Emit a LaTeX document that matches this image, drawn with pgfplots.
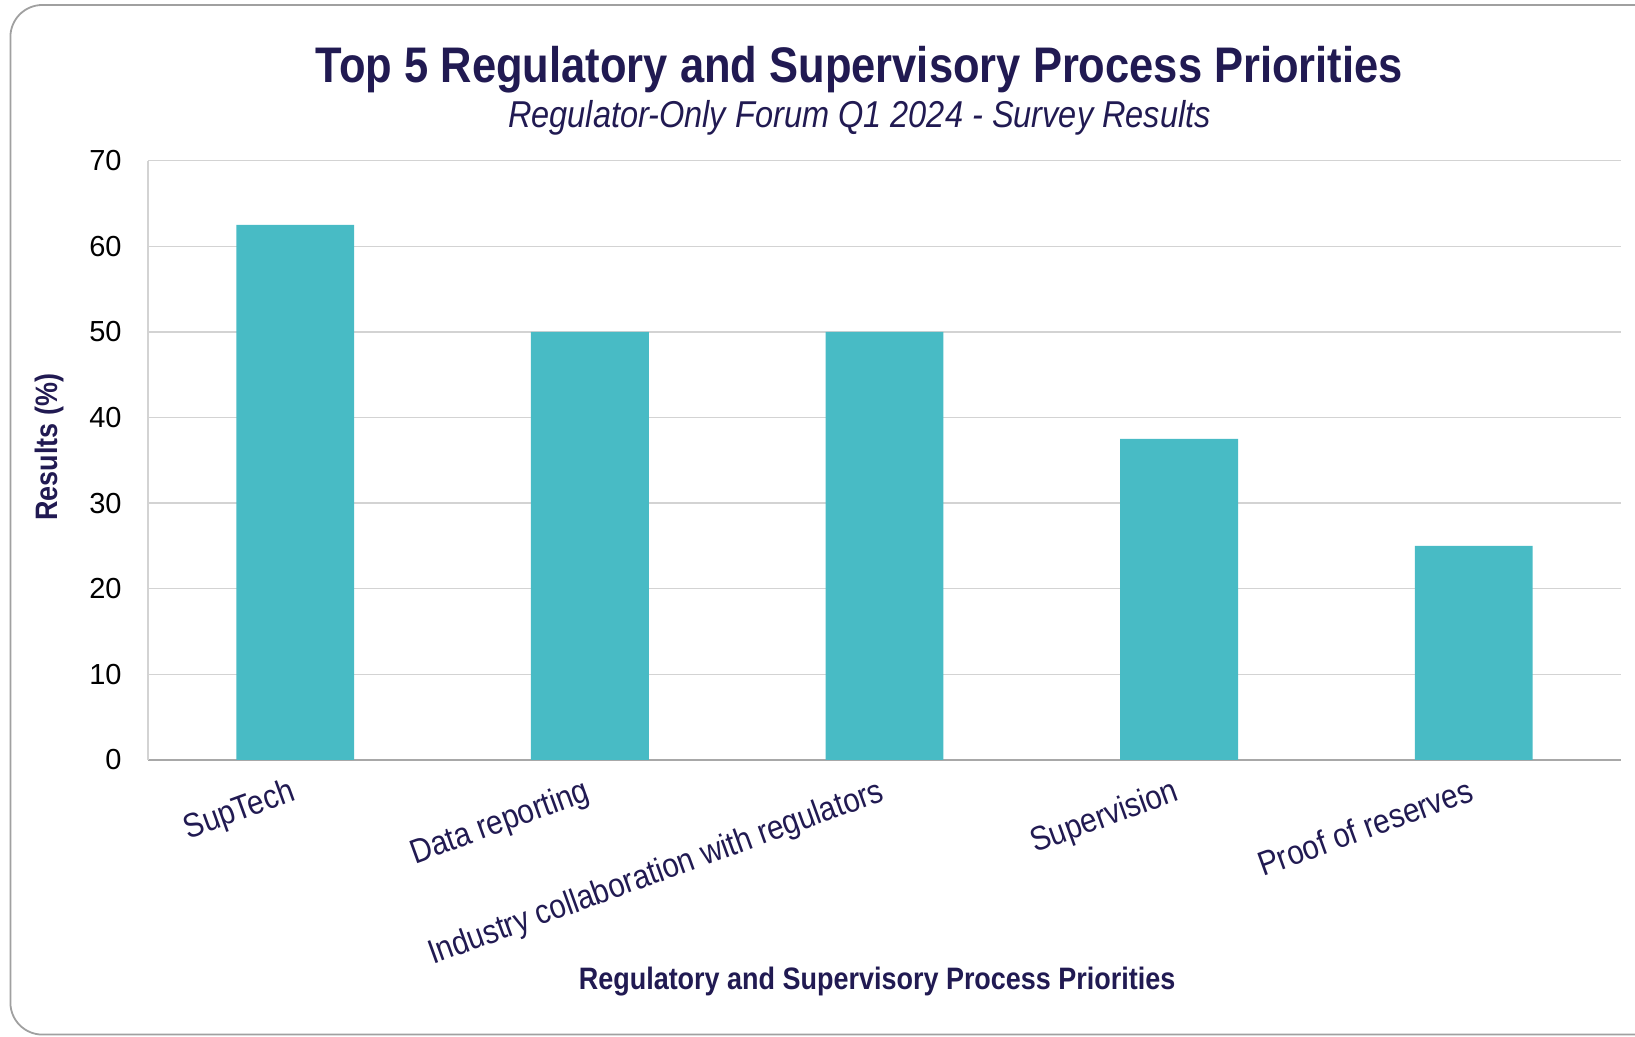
\documentclass[border=0pt]{standalone}
\usepackage{pgfplots}
\pgfplotsset{compat=1.18}
\usepackage{fontspec}
\setmainfont{Liberation Sans}
\newfontfamily\rob[FakeStretch=0.87]{Liberation Sans}
\definecolor{navy}{HTML}{211A52}
\definecolor{barc}{HTML}{48BBC5}
\definecolor{gridc}{HTML}{D3D3D3}
\definecolor{axisc}{HTML}{A8A8A8}
\definecolor{cardc}{HTML}{A0A0A0}
\begin{document}
\begin{tikzpicture}
\useasboundingbox (0,0) rectangle (817.5pt,518.5pt);
\draw[cardc, line width=0.9pt, rounded corners=16pt] (5.2pt,1.2pt) rectangle (840pt,516pt);
\begin{axis}[
  at={(74pt,138.5pt)}, anchor=south west,
  scale only axis, width=736.5pt, height=299.7pt,
  ybar, bar width=0.4, bar shift=0pt,
  xmin=-0.5, xmax=4.5, ymin=0, ymax=70,
  ytick={0,10,...,70},
  xtick={0,1,2,3,4},
  xticklabels={SupTech,Data reporting,Industry collaboration with regulators,Supervision,Proof of reserves},
  axis x line*=bottom, axis y line*=left,
  x axis line style={draw=axisc, line width=0.9pt, -},
  y axis line style={draw=gridc, line width=0.7pt, -},
  ymajorgrids, grid style={gridc, line width=0.7pt},
  major tick length=0pt,
  tick style={draw=none},
  /pgf/number format/assume math mode=true,
  yticklabel style={font=\fontsize{14.5}{15}\selectfont, text=black, anchor=east, inner sep=0pt, xshift=-13pt},
  xticklabel style={font=\rob\fontsize{17}{18}\selectfont, text=navy, rotate=20, anchor=north east, inner sep=0pt, yshift=-6.5pt, xshift=-6pt},
  title={Top 5 Regulatory and Supervisory Process Priorities},
  title style={font=\rob\bfseries\fontsize{25}{30}\selectfont, text=navy, at={(rel axis cs:0.483,1.157)}, anchor=center, inner sep=0pt, yshift=-7.5pt},
  xlabel={Regulatory and Supervisory Process Priorities},
  xlabel style={font=\rob\bfseries\fontsize{15.5}{18}\selectfont, text=navy, at={(rel axis cs:0.495,-0.370)}, anchor=center, inner sep=0pt},
  ylabel={Results (\%)},
  ylabel style={font=\rob\bfseries\fontsize{15.5}{18}\selectfont, text=navy, at={(rel axis cs:-0.0672,0.522)}, anchor=center, inner sep=0pt, rotate=0},
  clip=false,
]
\addplot[fill=barc, draw=none] coordinates {(0,62.5) (1,50) (2,50) (3,37.5) (4,25)};
\node[font=\rob\itshape\fontsize{18.7}{22}\selectfont, text=navy, anchor=center, inner sep=0pt] at (rel axis cs:0.483,1.072) {Regulator-Only Forum Q1 2024 - Survey Results};
\end{axis}
\end{tikzpicture}
\end{document}
